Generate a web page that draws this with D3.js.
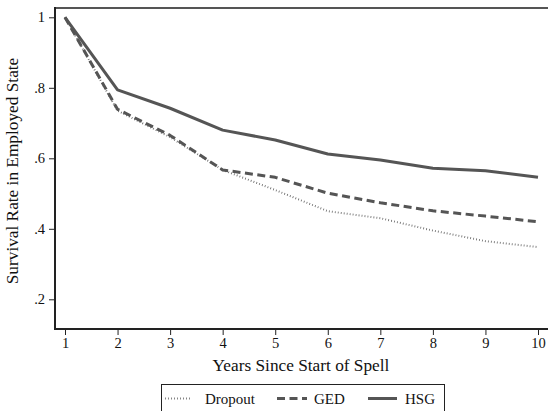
<!DOCTYPE html>
<html><head><meta charset="utf-8">
<script src="https://cdn.jsdelivr.net/npm/d3@7"></script>
<style>body{margin:0;background:#fff}svg{display:block}</style>
</head><body>
<script>
const years = [1,2,3,4,5,6,7,8,9,10];
const dropout = [1.0,0.735,0.660,0.567,0.510,0.450,0.430,0.395,0.365,0.348];
const ged     = [1.0,0.739,0.665,0.567,0.546,0.501,0.474,0.451,0.436,0.420];
const hsg     = [1.0,0.794,0.742,0.680,0.652,0.612,0.595,0.572,0.565,0.546];
const yTicks = [0.2,0.4,0.6,0.8,1];
const yTickLabels = [".2",".4",".6",".8","1"];
const seriesNames = ["Dropout","GED","HSG"];

const W=548,H=411;
const svg=d3.select("body").append("svg").attr("width",W).attr("height",H);
const font="Liberation Serif, Times New Roman, serif";
const col="#555";
const x=d3.scaleLinear().domain([1,10]).range([65,538]);
const y=d3.scaleLinear().domain([0,1]).range([369.8,17.3]);
const pL=55,pB=329,pT=8;

// top border
svg.append("line").attr("x1",pL).attr("x2",W).attr("y1",pT).attr("y2",pT).attr("stroke",col).attr("stroke-width",2);

// y axis
const ya=svg.append("g").attr("transform",`translate(${pL},0)`)
 .call(d3.axisLeft(y).tickValues(yTicks).tickFormat((d,i)=>yTickLabels[i]).tickSize(6).tickPadding(4));
ya.select(".domain").remove();
svg.append("line").attr("x1",pL).attr("x2",pL).attr("y1",pT-1).attr("y2",pB).attr("stroke","#222").attr("stroke-width",2);
// x axis
const xa=svg.append("g").attr("transform",`translate(0,${pB})`)
 .call(d3.axisBottom(x).tickValues(years).tickFormat(d3.format("d")).tickSize(6).tickPadding(3));
xa.select(".domain").remove();
svg.append("line").attr("x1",pL-1).attr("x2",W).attr("y1",pB).attr("y2",pB).attr("stroke","#222").attr("stroke-width",2);
svg.selectAll(".tick line").attr("stroke","#222").attr("stroke-width",1);
svg.selectAll(".tick text").attr("font-family",font).attr("font-size",14.5).attr("fill","#111");

// titles
svg.append("text").attr("x",301).attr("y",370.5).attr("text-anchor","middle")
 .attr("font-family",font).attr("font-size",17.3).attr("fill","#111").text("Years Since Start of Spell");
svg.append("text").attr("transform","translate(18,171) rotate(-90)").attr("text-anchor","middle")
 .attr("font-family",font).attr("font-size",17.3).attr("fill","#111").text("Survival Rate in Employed State");

const styles=[
 {w:2,dash:"0.8,2.2",c:"#666"},
 {w:3,dash:"8,4.5",c:col},
 {w:3,dash:null,c:col}
];
const data=[dropout,ged,hsg];
const line=d3.line().x((d,i)=>x(years[i])).y(d=>y(d));
data.forEach((s,k)=>{
 const p=svg.append("path").datum(s).attr("d",line).attr("fill","none")
  .attr("stroke",styles[k].c).attr("stroke-width",styles[k].w).attr("stroke-linejoin","round");
 if(styles[k].dash) p.attr("stroke-dasharray",styles[k].dash);
});

// legend
const lg=svg.append("g");
lg.append("rect").attr("x",161.5).attr("y",384.5).attr("width",283).attr("height",40)
 .attr("fill","#fff").attr("stroke","#222").attr("stroke-width",1);
const lx=[[165,192,205],[277,307,314],[368,397,405]];
seriesNames.forEach((n,k)=>{
 const l=lg.append("line").attr("x1",lx[k][0]).attr("x2",lx[k][1]).attr("y1",398.5).attr("y2",398.5)
  .attr("stroke",styles[k].c).attr("stroke-width",styles[k].w);
 if(styles[k].dash) l.attr("stroke-dasharray",styles[k].dash);
 lg.append("text").attr("x",lx[k][2]).attr("y",404).attr("font-family",font).attr("font-size",15)
  .attr("fill","#111").text(n);
});
</script>
</body></html>
